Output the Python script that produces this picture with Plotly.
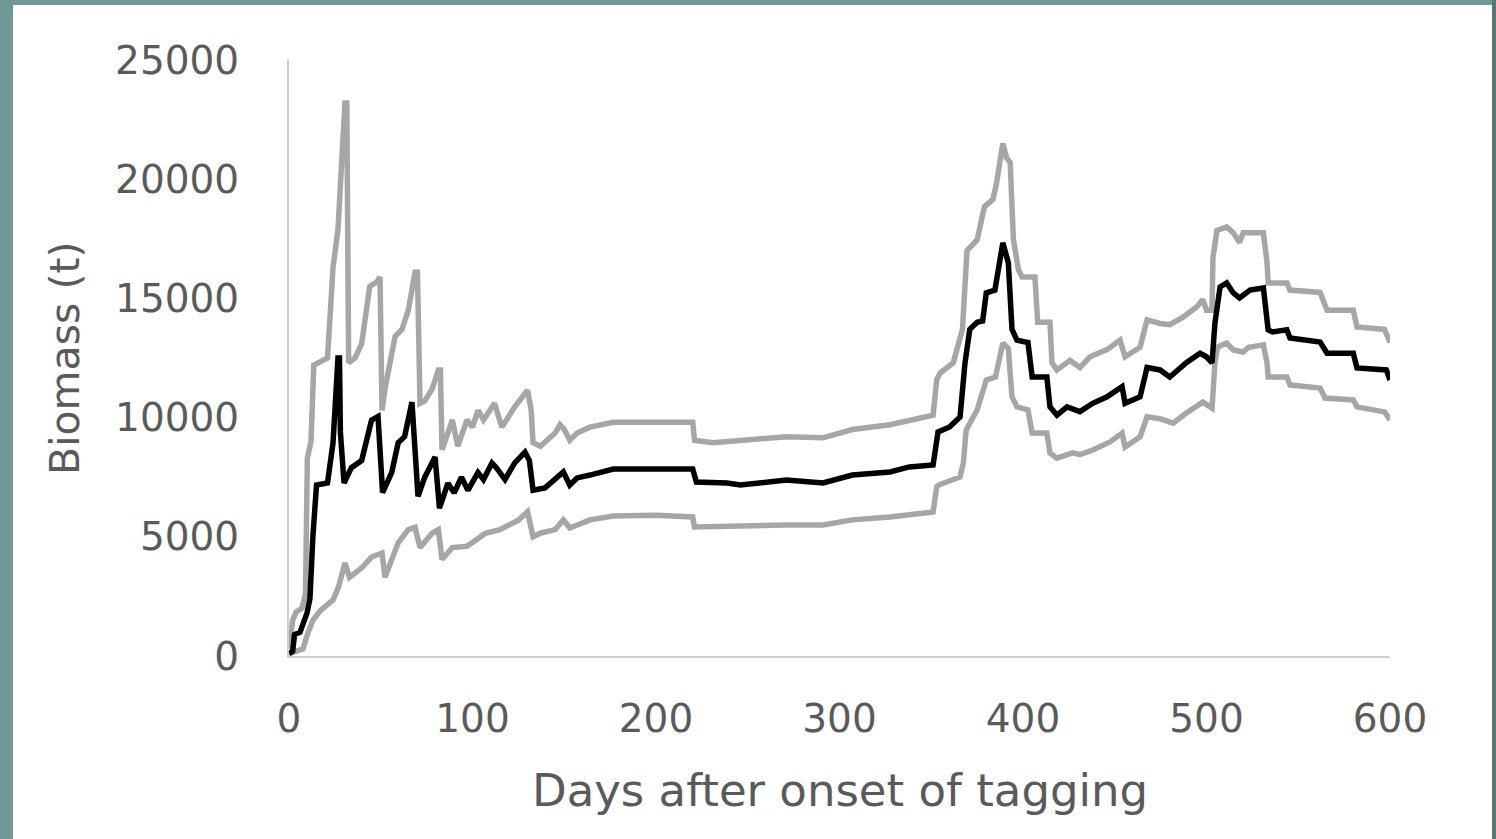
import plotly.graph_objects as go

# ---- data ----
upper_days = [0, 2, 4, 7, 9, 10, 12, 13.5, 21, 24, 26.7, 29, 30.5, 31.5, 32.5, 36, 39.6, 44, 48, 49.6,
              50.7, 52.3, 57.8, 61.6, 65, 68.7, 70, 71.4, 74, 78, 81.4, 82.5, 83.4, 89, 92, 97, 100, 103,
              106, 112, 116, 123, 130, 132, 133, 137, 145, 147.7, 150, 153, 157, 164, 176.7, 220, 221,
              231, 249.6, 271, 291, 307, 327.5, 340, 351, 353, 354.8, 362, 367, 369.5, 375, 379, 383.6,
              385.5, 389, 391, 393, 394.8, 397.5, 399.5, 406.5, 408, 414.7, 415.8, 418.5, 425.6, 431,
              436.5, 445.8, 452.9, 455.6, 463.8, 467.6, 474.7, 480, 487, 494.8, 498, 500, 503, 503.5,
              505.7, 511, 514.6, 518, 520, 531, 533, 533.6, 543.8, 545.5, 561.9, 565.7, 580, 582, 597, 600]
upper_vals = [300, 1500, 1850, 2000, 2600, 8300, 9000, 12200, 12500, 16300, 17900, 21500, 23200, 23200,
              12300, 12500, 13100, 15500, 15700, 15900, 10300, 11200, 13400, 13700, 14500, 16100, 16100,
              10600, 10700, 11200, 12000, 12000, 8650, 9900, 8800, 9900, 9600, 10300, 9900, 10600, 9600,
              10450, 11150, 10300, 8950, 8800, 9350, 9700, 9500, 9050, 9350, 9600, 9800, 9800, 9050, 8950,
              9050, 9200, 9150, 9500, 9700, 9900, 10100, 11600, 11870, 12300, 13700, 17000, 17450, 18850,
              19150, 19800, 21500, 20900, 20700, 17450, 16200, 15900, 15900, 14000, 14000, 12300, 12000,
              12400, 12100, 12550, 12850, 13250, 12550, 12950, 14100, 13950, 13900, 14200, 14650, 14950,
              14500, 14500, 16700, 17850, 18000, 17750, 17350, 17750, 17750, 16500, 15650, 15650, 15350,
              15250, 14500, 14500, 13800, 13700, 13150]

mean_days = [0, 2, 3, 6, 9.8, 11.4, 13, 15, 21, 24, 26.7, 27.5, 28, 30, 34, 39.6, 45, 48.5, 51, 56, 59.5,
             63, 67, 70.3, 74, 79.6, 82, 86.6, 90, 94, 97.5, 103, 106, 110.6, 113, 117.7, 123, 128.6, 131,
             133, 139.5, 144, 149.5, 153, 157, 164, 176.7, 220, 222, 238.7, 246, 271, 291, 307, 327.5, 338,
             351, 353.7, 360, 365.7, 368.4, 371, 375, 378, 380, 384.7, 389, 392, 394, 396.7, 402.7, 405,
             413, 414.7, 418.5, 424, 431, 438, 445.8, 454, 455.6, 463.8, 467.6, 474.7, 480, 489, 496.5,
             500, 503, 504.6, 507.4, 511, 514.6, 518, 523.7, 531, 533.6, 536, 543.8, 545.5, 561.9, 565.7,
             580, 582, 598, 600]
mean_vals = [100, 200, 900, 1000, 1800, 2400, 5000, 7170, 7260, 8950, 12500, 12500, 9400, 7250, 7900, 8200,
             9900, 10050, 6850, 7700, 8950, 9200, 10650, 6700, 7500, 8350, 6200, 7250, 6850, 7500, 6950,
             7700, 7400, 8100, 7900, 7400, 8100, 8550, 8200, 6950, 7050, 7380, 7720, 7170, 7470, 7590, 7840,
             7840, 7300, 7260, 7170, 7380, 7260, 7590, 7720, 7930, 8010, 9400, 9610, 10030, 12300, 13700,
             14000, 14050, 15230, 15350, 17330, 16500, 13700, 13250, 13150, 11700, 11700, 10450, 10100,
             10450, 10250, 10600, 10870, 11300, 10600, 10870, 12100, 12000, 11700, 12300, 12700, 12550,
             12300, 13970, 15480, 15650, 15230, 15020, 15350, 15440, 13680, 13590, 13680, 13340, 13170,
             12700, 12700, 12080, 12000, 11580]

lower_days = [0, 4, 7.6, 10, 13, 17, 24, 27, 30.5, 33, 39.6, 45, 50.7, 52.3, 59.5, 65, 68.7, 71.4, 78, 81.4,
              83.4, 89, 97, 107, 115, 125, 130, 133, 137, 145, 149.5, 153, 164, 176.7, 200, 220, 221, 271,
              291, 307, 327.5, 351, 353, 354.8, 365.7, 367.5, 369, 375, 380, 385, 389, 392, 394, 396.7,
              402.7, 405, 413, 414.7, 418.5, 427, 431, 438, 447.4, 454, 455.6, 463.8, 467.6, 474.7, 481.8,
              489, 498, 503, 504.6, 506, 511, 514.6, 520, 523, 531, 533, 533.6, 543.8, 545.5, 561.9, 564.6,
              580, 582, 597, 600]
lower_vals = [100, 200, 300, 900, 1500, 1900, 2350, 2900, 3900, 3300, 3700, 4150, 4320, 3300, 4750, 5300,
              5400, 4550, 5150, 5300, 4050, 4550, 4600, 5150, 5300, 5700, 6050, 5000, 5150, 5300, 5710, 5370,
              5710, 5870, 5900, 5830, 5410, 5500, 5500, 5710, 5830, 6040, 7100, 7200, 7510, 8100, 9480, 10320,
              11580, 11700, 13130, 12900, 10870, 10450, 10320, 9350, 9350, 8520, 8300, 8520, 8450, 8640, 8980,
              9350, 8770, 9190, 10030, 9950, 9770, 10190, 10650, 10400, 12290, 12960, 13130, 12840, 12750,
              12950, 13050, 12290, 11700, 11700, 11370, 11240, 10820, 10740, 10450, 10240, 9900]

x_ticks = [0, 100, 200, 300, 400, 500, 600]
y_ticks = [0, 5000, 10000, 15000, 20000, 25000]
x_title = "Days after onset of tagging"
y_title = "Biomass (t)"

# ---- layout geometry (pixels) ----
W, H = 1496, 839
L, R, T, B = 289, 106, 60, 183
pw, ph = W - L - R, H - T - B


def px_x(p):
    return (p - L) / pw


def px_y(p):
    return (H - B - p) / ph


GREY = "#A6A6A6"
TEAL = "#6F9896"
TEAL_DARK = "#587877"
TXT = "#5A5A5A"
FONT = "DejaVu Sans"
LW = 5.5

fig = go.Figure()
fig.add_trace(go.Scatter(x=upper_days, y=upper_vals, mode="lines",
                         line=dict(color=GREY, width=LW), showlegend=False))
fig.add_trace(go.Scatter(x=lower_days, y=lower_vals, mode="lines",
                         line=dict(color=GREY, width=LW), showlegend=False))
fig.add_trace(go.Scatter(x=mean_days, y=mean_vals, mode="lines",
                         line=dict(color="#000000", width=LW), showlegend=False))

fig.update_layout(
    width=W, height=H,
    margin=dict(l=L, r=R, t=T, b=B, pad=0),
    paper_bgcolor="white", plot_bgcolor="white",
    font=dict(family=FONT, color=TXT),
    xaxis=dict(range=[0, 600], tickvals=x_ticks, ticktext=[str(v) for v in x_ticks],
               showgrid=False, zeroline=False, showline=True, linecolor="#D0D0D0", linewidth=2,
               ticks="", tickfont=dict(size=39, color=TXT, family=FONT), ticklabelstandoff=27),
    yaxis=dict(range=[0, 25000], tickvals=y_ticks, ticktext=[str(v) for v in y_ticks],
               showgrid=False, zeroline=False, showline=True, linecolor="#D0D0D0", linewidth=2,
               ticks="", tickfont=dict(size=39, color=TXT, family=FONT), ticklabelstandoff=40),
    annotations=[
        dict(text=x_title, xref="paper", yref="paper", x=0.5, y=px_y(790),
             xanchor="center", yanchor="middle", showarrow=False,
             font=dict(size=45, color=TXT, family=FONT)),
        dict(text=y_title, xref="paper", yref="paper", x=px_x(65), y=px_y(358),
             xanchor="center", yanchor="middle", showarrow=False, textangle=-90,
             font=dict(size=41, color=TXT, family=FONT)),
    ],
    shapes=[
        dict(type="rect", xref="paper", yref="paper", x0=px_x(0), x1=px_x(13), y0=px_y(H), y1=px_y(0),
             fillcolor=TEAL, line=dict(width=0), layer="above"),
        dict(type="rect", xref="paper", yref="paper", x0=px_x(0), x1=px_x(W), y0=px_y(5), y1=px_y(0),
             fillcolor=TEAL, line=dict(width=0), layer="above"),
        dict(type="rect", xref="paper", yref="paper", x0=px_x(1492), x1=px_x(W), y0=px_y(H), y1=px_y(0),
             fillcolor=TEAL_DARK, line=dict(width=0), layer="above"),
    ],
)

fig.write_html("out.html")
